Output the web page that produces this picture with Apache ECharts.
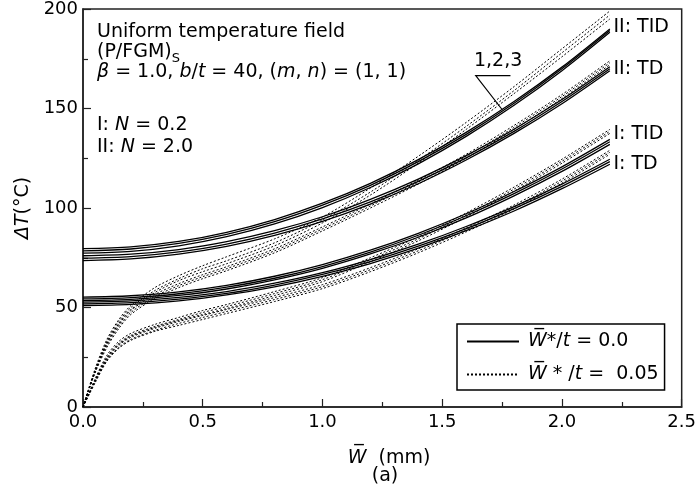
<!DOCTYPE html>
<html>
<head>
<meta charset="utf-8">
<script src="https://cdn.jsdelivr.net/npm/echarts@6/dist/echarts.min.js"></script>
<style>
  html, body { margin: 0; padding: 0; background: #fff; }
  #chart { width: 699px; height: 489px; }
</style>
</head>
<body>
<div id="chart"></div>
<script>
// Deflection samples (mm) for the perfect (W*/t = 0) and imperfect (W*/t = 0.05) curves
const wPerfect = [0, 0.2, 0.4, 0.6, 0.8, 1.0, 1.2, 1.4, 1.6, 1.8, 2.0, 2.2];
const wImperfect = [0, 0.05, 0.1, 0.15, 0.2, 0.3, 0.4, 0.5, 0.6, 0.8, 1.0, 1.2, 1.4, 1.6, 1.8, 2.0, 2.2];

// Axis ticks
const xTicks = [0, 0.5, 1.0, 1.5, 2.0, 2.5];
const yTicks = [0, 50, 100, 150, 200];

// ΔT (°C), curves 1,2,3 in each group — perfect plates
const iiTidPerfect = [
  [79.6, 80.5, 83.2, 87.8, 94.2, 102.4, 112.4, 124.3, 138.0, 153.5, 170.8, 190.0],
  [78.5, 79.4, 82.2, 86.7, 93.1, 101.4, 111.4, 123.3, 137.0, 152.6, 170.0, 189.2],
  [77.3, 78.2, 81.0, 85.6, 92.0, 100.2, 110.3, 122.2, 136.0, 151.6, 169.0, 188.3]
];
const iiTdPerfect = [
  [76.0, 76.8, 79.1, 83.1, 88.6, 95.6, 104.3, 114.5, 126.3, 139.6, 154.5, 171.0],
  [74.8, 75.6, 77.9, 81.9, 87.4, 94.5, 103.1, 113.4, 125.2, 138.5, 153.5, 170.0],
  [73.6, 74.4, 76.8, 80.7, 86.2, 93.3, 102.0, 112.2, 124.1, 137.5, 152.4, 169.0]
];
const iTidPerfect = [
  [55.2, 55.9, 57.8, 61.1, 65.7, 71.6, 78.8, 87.3, 97.1, 108.3, 120.7, 134.5],
  [54.3, 55.0, 56.9, 60.2, 64.7, 70.6, 77.8, 86.3, 96.1, 107.2, 119.6, 133.3],
  [53.5, 54.1, 56.1, 59.3, 63.9, 69.7, 76.9, 85.3, 95.0, 106.1, 118.4, 132.0]
];
const iTdPerfect = [
  [52.7, 53.3, 55.1, 58.0, 62.2, 67.5, 74.1, 81.8, 90.7, 100.7, 112.0, 124.5],
  [51.8, 52.4, 54.2, 57.1, 61.3, 66.6, 73.1, 80.8, 89.6, 99.7, 110.9, 123.3],
  [51.0, 51.6, 53.3, 56.3, 60.4, 65.7, 72.1, 79.8, 88.6, 98.5, 109.7, 122.0]
];

// ΔT (°C) — imperfect plates
const iiTidImperfect = [
  [0, 19, 34, 44, 51, 60, 66, 71, 75.5, 84.5, 95.5, 110, 126, 143, 161, 180, 199],
  [0, 18, 33, 43, 50, 58.5, 64.5, 69.5, 73.5, 82.5, 94, 108, 124, 141, 159, 178, 197],
  [0, 17.5, 32, 42, 49, 57.5, 63.5, 68, 72, 81, 92.5, 106.5, 122.5, 139.5, 157.5, 176, 195]
];
const iiTdImperfect = [
  [0, 18, 32, 41.5, 48.5, 56.5, 62, 66.5, 70.5, 79.5, 90.5, 102, 114, 127, 141.5, 157, 174],
  [0, 17.5, 31, 40.5, 47.5, 55.5, 61, 65.5, 69.5, 78.5, 89.5, 101, 113, 126, 140.5, 156, 173],
  [0, 17, 30, 39.5, 46.5, 54.5, 60, 64.5, 68.5, 77.5, 88.5, 100, 112, 125, 139.5, 155, 172]
];
const iTidImperfect = [
  [0, 14, 26, 33, 37, 41.5, 45, 48.5, 51.5, 58, 65, 75, 85.5, 97.5, 110.5, 124.5, 139.5],
  [0, 13.5, 25, 32, 36, 40.5, 44, 47.5, 50.5, 57, 64, 74, 84.5, 96.5, 109.5, 123.5, 138.5],
  [0, 13, 24.5, 31.5, 35.5, 40, 43.5, 46.5, 49.5, 56, 63, 73, 83.5, 95.5, 108.5, 122.5, 137.5]
];
const iTdImperfect = [
  [0, 13, 24, 31, 35, 39.5, 43, 46, 49, 55, 61.5, 70, 79.5, 90, 101.5, 114.5, 129],
  [0, 12.5, 23.5, 30, 34, 38.5, 42, 45, 48, 54, 60.5, 69, 78.5, 89, 100.5, 113.5, 128],
  [0, 12, 23, 29.5, 33.5, 38, 41, 44, 47, 53, 59.5, 68, 77.5, 88, 99.5, 112.5, 127]
];

const NAME_PERFECT = 'W*/t = 0.0';
const NAME_IMPERFECT = 'W*/t = 0.05';
const FONT = '"DejaVu Sans", "Liberation Sans", Arial, sans-serif';
const FS = 19;

function curve(name, xs, ys, dashed) {
  return {
    type: 'line',
    name: name,
    data: xs.map((x, i) => [x, ys[i]]),
    symbol: 'none',
    showSymbol: false,
    smooth: 0.3,
    silent: true,
    z: dashed ? 2 : 3,
    itemStyle: { color: '#000' },
    lineStyle: {
      color: '#000',
      width: dashed ? 1 : 1.3,
      type: dashed ? [2, 2] : 'solid'
    }
  };
}

const series = [];
[iiTidPerfect, iiTdPerfect, iTidPerfect, iTdPerfect].forEach(group =>
  group.forEach(ys => series.push(curve(NAME_PERFECT, wPerfect, ys, false))));
[iiTidImperfect, iiTdImperfect, iTidImperfect, iTdImperfect].forEach(group =>
  group.forEach(ys => series.push(curve(NAME_IMPERFECT, wImperfect, ys, true))));

const chart = echarts.init(document.getElementById('chart'), null, { renderer: 'canvas' });

const richAxis = {
  i: { fontFamily: FONT, fontSize: FS, fontStyle: 'italic', color: '#000' },
  n: { fontFamily: FONT, fontSize: FS, color: '#000' }
};

chart.setOption({
  animation: false,
  backgroundColor: '#fff',
  grid: {
    left: 83, top: 7, width: 603, height: 400,
    show: true, borderColor: '#222', borderWidth: 1.5, backgroundColor: 'transparent'
  },
  legend: {
    left: 457, top: 324,
    orient: 'vertical',
    data: [NAME_PERFECT, NAME_IMPERFECT],
    itemWidth: 52, itemHeight: 14, itemGap: 14,
    padding: [8, 6, 6, 9],
    borderColor: '#000', borderWidth: 1.5,
    selectedMode: false,
    itemStyle: { opacity: 0 },
    formatter: name => name === NAME_PERFECT
      ? '{i|W\u0305}{n|*/}{i|t}{n| = 0.0}'
      : '{i|W\u0305}{n| * /}{i|t}{n| =  0.05}',
    textStyle: { fontFamily: FONT, fontSize: FS, color: '#000', padding: [0, 0, 0, 4], rich: richAxis }
  },
  xAxis: {
    type: 'value', min: xTicks[0], max: xTicks[xTicks.length - 1], interval: 0.5,
    axisLine: { show: true, onZero: false, lineStyle: { color: '#222', width: 1.5 } },
    axisTick: { show: true, inside: true, length: 8, lineStyle: { color: '#222', width: 1.2 } },
    minorTick: { show: true, splitNumber: 2, length: 5, lineStyle: { color: '#222', width: 1.2 } },
    splitLine: { show: false },
    axisLabel: { fontFamily: FONT, fontSize: 18, color: '#000', margin: 6, formatter: v => v.toFixed(1) }
  },
  yAxis: {
    type: 'value', min: yTicks[0], max: yTicks[yTicks.length - 1], interval: 50,
    name: '{i|ΔT}{n|(°C)}',
    nameLocation: 'middle', nameGap: 50,
    nameTextStyle: { fontFamily: FONT, fontSize: FS, color: '#000', rich: richAxis },
    axisLine: { show: true, onZero: false, lineStyle: { color: '#222', width: 1.5 } },
    axisTick: { show: true, inside: true, length: 8, lineStyle: { color: '#222', width: 1.2 } },
    minorTick: { show: true, splitNumber: 2, length: 5, lineStyle: { color: '#222', width: 1.2 } },
    splitLine: { show: false },
    axisLabel: { fontFamily: FONT, fontSize: 18, color: '#000', margin: 5 }
  },
  series: series
});

// Annotations placed in data coordinates
function px(w, t) { return chart.convertToPixel({ gridIndex: 0 }, [w, t]); }

const richMain = {
  n: { fontFamily: FONT, fontSize: FS, fill: '#000', lineHeight: 26 },
  i: { fontFamily: FONT, fontSize: FS, fontStyle: 'italic', fill: '#000', lineHeight: 26 },
  sub: { fontFamily: FONT, fontSize: 13, fill: '#000', lineHeight: 12, verticalAlign: 'bottom' }
};

function label(x, y, text, align) {
  return {
    type: 'text', x: x, y: y, silent: true,
    style: {
      text: text, rich: richMain, fontFamily: FONT, fontSize: FS, fill: '#000',
      textAlign: align || 'left', textVerticalAlign: 'middle', verticalAlign: 'middle', align: align || 'left'
    }
  };
}

const pLeader0 = px(1.64, 166.5);
const pLeader1 = px(1.785, 166.5);
const pLeaderEnd = px(1.75, 149.5);
const labelLeft = px(2.215, 0)[0];

chart.setOption({
  graphic: [
    label(97, 32, '{n|Uniform temperature field}'),
    label(97, 52, '{n|(P/FGM)}{sub|S}'),
    label(97, 72, '{i|β}{n| = 1.0, }{i|b}{n|/}{i|t}{n| = 40, (}{i|m}{n|, }{i|n}{n|) = (1, 1)}'),
    label(97, 125, '{n|I: }{i|N}{n| = 0.2}'),
    label(97, 147, '{n|II: }{i|N}{n| = 2.0}'),
    label(labelLeft, px(0, 191)[1], '{n|II: TID}'),
    label(labelLeft, px(0, 170)[1], '{n|II: TD}'),
    label(labelLeft, px(0, 137)[1], '{n|I: TID}'),
    label(labelLeft, px(0, 122)[1], '{n|I: TD}'),
    label((pLeader0[0] + pLeader1[0]) / 2 + 5, pLeader0[1] - 15, '{n|1,2,3}', 'center'),
    {
      type: 'polyline', silent: true,
      shape: { points: [pLeader1, pLeader0, pLeaderEnd] },
      style: { stroke: '#000', lineWidth: 1.2, fill: null }
    },
    label(389, 458, '{i|W\u0305}{n|  (mm)}', 'center'),
    label(385, 476, '{n|(a)}', 'center')
  ]
});
</script>
</body>
</html>
